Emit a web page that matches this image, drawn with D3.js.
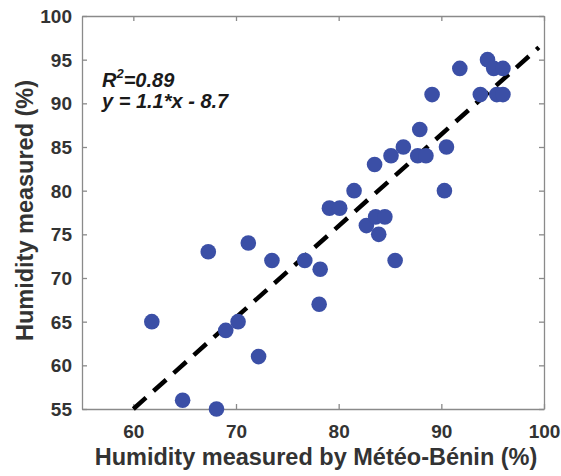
<!DOCTYPE html>
<html>
<head>
<meta charset="utf-8">
<script src="https://cdn.jsdelivr.net/npm/d3@7"></script>
<style>
    body { margin: 0; background: #fff; }
    text { font-family: "Liberation Sans", Arial, sans-serif; }
</style>
</head>
<body>
<div id="chart"></div>
<script>
// measured points (Météo-Bénin vs sensor)
const meteoX = [61.8, 67.3, 71.2, 73.5, 69.0, 70.2, 72.2, 64.8, 68.1,
    76.7, 78.2, 78.1, 85.5, 83.9, 82.7, 83.6, 84.5, 79.1, 80.1, 81.5,
    83.5, 85.1, 86.3, 87.9, 87.7, 88.5, 90.5, 90.3, 89.1, 91.8,
    93.8, 95.4, 96.0, 94.5, 95.1, 96.0];
const measuredY = [65, 73, 74, 72, 64, 65, 61, 56, 55,
    72, 71, 67, 72, 75, 76, 77, 77, 78, 78, 80,
    83, 84, 85, 87, 84, 84, 85, 80, 91, 94,
    91, 91, 91, 95, 94, 94];

// dashed fit line end points
const fitX = [60, 99.5];
const fitY = [55, 96.4];

const xTicks = [60, 70, 80, 90, 100];
const yTicks = [55, 60, 65, 70, 75, 80, 85, 90, 95, 100];
const annotations = ["=0.89", "y = 1.1*x - 8.7"];

function draw() {
    let margin = { top: 16, right: 17, bottom: 67, left: 82 };
    let totalWidth = 561;
    let totalHeight = 476;
    let width = totalWidth - margin.left - margin.right;
    let height = totalHeight - margin.top - margin.bottom;

    let xScale = d3.scaleLinear().domain([55, 100]).range([0, width]);
    let yScale = d3.scaleLinear().domain([55, 100]).range([height, 0]);

    let svg = d3.select("#chart").append("svg")
        .attr("width", totalWidth)
        .attr("height", totalHeight)
        .append("g")
        .attr("transform", "translate(" + margin.left + "," + margin.top + ")");

    // box with inward ticks on all sides
    let axisColor = "#8a8a8a";
    let labelColor = "#333";

    let xAxis = d3.axisBottom(xScale).tickValues(xTicks).tickSizeInner(-5).tickSizeOuter(0).tickPadding(16);
    let yAxis = d3.axisLeft(yScale).tickValues(yTicks).tickSizeInner(-5).tickSizeOuter(0).tickPadding(10);

    svg.append("g")
        .attr("class", "x axis")
        .attr("transform", "translate(0," + height + ")")
        .call(xAxis);
    svg.append("g")
        .attr("class", "y axis")
        .call(yAxis);
    svg.append("g")
        .attr("class", "x2 axis")
        .call(d3.axisTop(xScale).tickValues(xTicks).tickSizeInner(-5).tickSizeOuter(0).tickFormat(""));
    svg.append("g")
        .attr("class", "y2 axis")
        .attr("transform", "translate(" + width + ",0)")
        .call(d3.axisRight(yScale).tickValues(yTicks).tickSizeInner(-5).tickSizeOuter(0).tickFormat(""));

    svg.selectAll(".axis path, .axis line")
        .attr("stroke", axisColor)
        .attr("stroke-width", 1.3);
    svg.selectAll(".axis text")
        .attr("fill", labelColor)
        .style("font-size", "19px")
        .style("font-weight", "bold");
    svg.selectAll(".x.axis text").attr("dy", "0.71em");
    svg.selectAll(".y.axis text").attr("dy", "0.35em");

    // axis labels
    svg.append("text")
        .attr("x", width / 2 + 3)
        .attr("y", height + 56)
        .attr("text-anchor", "middle")
        .attr("fill", labelColor)
        .style("font-size", "23.5px")
        .style("font-weight", "bold")
        .text("Humidity measured by Météo-Bénin (%)");

    svg.append("text")
        .attr("transform", "rotate(-90)")
        .attr("x", -height / 2 + 2)
        .attr("y", -49)
        .attr("text-anchor", "middle")
        .attr("fill", labelColor)
        .style("font-size", "23.5px")
        .style("font-weight", "bold")
        .text("Humidity measured (%)");

    // dashed regression line
    let line = d3.line()
        .x(d => xScale(d[0]))
        .y(d => yScale(d[1]));
    svg.append("path")
        .datum(d3.zip(fitX, fitY))
        .attr("d", line)
        .attr("fill", "none")
        .attr("stroke", "#000")
        .attr("stroke-width", 4.5)
        .attr("stroke-dasharray", "17 10");

    // dots
    svg.selectAll(".dot")
        .data(d3.zip(meteoX, measuredY))
        .enter()
        .append("circle")
        .attr("class", "dot")
        .attr("r", 7.8)
        .attr("cx", d => xScale(d[0]))
        .attr("cy", d => yScale(d[1]))
        .style("fill", "#3b4fa6");

    // annotation
    let note = svg.append("text")
        .attr("x", 20)
        .attr("y", 71)
        .attr("fill", "#1a1a1a")
        .style("font-size", "20px")
        .style("font-weight", "bold")
        .style("font-style", "italic");
    note.append("tspan").text("R");
    note.append("tspan").attr("dy", -9).style("font-size", "13px").text("2");
    note.append("tspan").attr("dy", 9).text(annotations[0]);

    svg.append("text")
        .attr("x", 20)
        .attr("y", 92)
        .attr("fill", "#1a1a1a")
        .style("font-size", "20px")
        .style("font-weight", "bold")
        .style("font-style", "italic")
        .text(annotations[1]);
}

draw();
</script>
</body>
</html>
